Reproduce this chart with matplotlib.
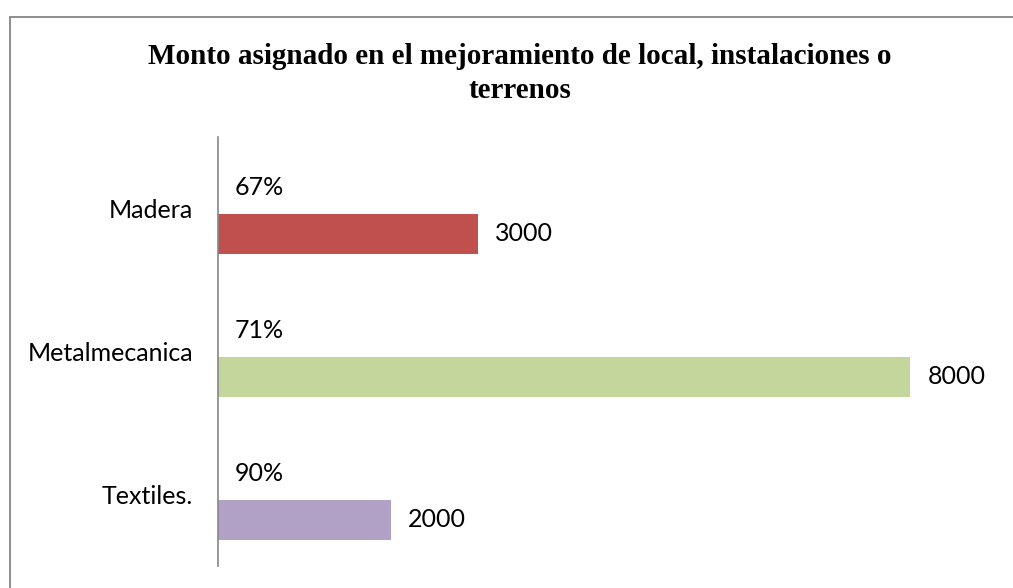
import matplotlib
matplotlib.use("Agg")
import matplotlib.pyplot as plt
from matplotlib.patches import Rectangle

# datos
categorias = ["Madera", "Metalmecanica", "Textiles."]
montos = [3000, 8000, 2000]
porcentajes = ["67%", "71%", "90%"]
colores = ["#C0504D", "#C3D69B", "#B2A1C7"]

W, H = 1013, 588
fig = plt.figure(figsize=(W / 100, H / 100), dpi=100)

# marco del gráfico (cortado a la derecha y abajo)
fig.patches.append(Rectangle((9.5 / W, -0.1), 1.2, (H - 17) / H + 0.1,
                             transform=fig.transFigure, fill=False,
                             edgecolor="#868686", linewidth=1.3))

fig.text(520 / W, 1 - 57 / H, "Monto asignado en el mejoramiento de local, instalaciones o",
         ha="center", va="center", fontsize=21, fontweight="bold",
         family="Liberation Serif")
fig.text(520 / W, 1 - 90 / H, "terrenos", ha="center", va="center",
         fontsize=21, fontweight="bold", family="Liberation Serif")

ax = fig.add_axes([218 / W, (H - 566) / H, (997 - 218) / W, (566 - 137) / H])
y = list(range(len(categorias)))
y_barra = [v + 0.175 for v in y]
ax.barh(y_barra, montos, height=0.28, color=colores)

for i in range(len(categorias)):
    ax.annotate(str(montos[i]), (montos[i], y_barra[i]), xytext=(17, 0),
                textcoords="offset pixels", ha="left", va="center",
                fontsize=18, family="Lato")
    ax.annotate(porcentajes[i], (0, y[i] - 0.15), xytext=(17, 0),
                textcoords="offset pixels", ha="left", va="center",
                fontsize=18, family="Lato")

ax.set_xlim(0, 9000)
ax.set_ylim(2.5, -0.5)
ax.set_yticks(y)
ax.set_yticklabels(categorias, fontsize=18, family="Lato")
ax.tick_params(axis="y", length=0, pad=18)
ax.set_xticks([])
for s in ["top", "right", "bottom"]:
    ax.spines[s].set_visible(False)
ax.spines["left"].set_color("#868686")
ax.spines["left"].set_linewidth(1.2)
ax.patch.set_alpha(0)

fig.savefig("out.png", dpi=100)
